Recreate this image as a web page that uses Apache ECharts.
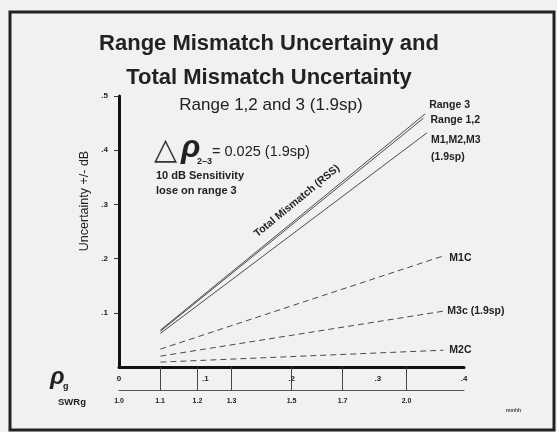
<!DOCTYPE html>
<html>
<head>
<meta charset="utf-8">
<script src="https://cdn.jsdelivr.net/npm/echarts@6/dist/echarts.min.js"></script>
<style>
  html, body { margin: 0; padding: 0; background: #f1f1ef; }
  #chart { width: 557px; height: 432px; }
</style>
</head>
<body>
<div id="chart"></div>
<script>
// reflection coefficient (rho) on x, uncertainty +/- dB on y
var rhoLabels = [0, 0.1, 0.2, 0.3, 0.4];
var swrTicks = [1.1, 1.2, 1.3, 1.5, 1.7, 2.0];
var swrLabels = [1.0, 1.1, 1.2, 1.3, 1.5, 1.7, 2.0];
var yTicks = [0.1, 0.2, 0.3, 0.4, 0.5];

// [rho, dB] start and end of each line
var rangeThree = [[0.048, 0.068], [0.355, 0.467]];
var rangeOneTwo = [[0.048, 0.066], [0.353, 0.459]];
var mAll = [[0.048, 0.062], [0.357, 0.432]];
var m1c = [[0.048, 0.033], [0.376, 0.205]];
var m3c = [[0.048, 0.020], [0.376, 0.103]];
var m2c = [[0.048, 0.009], [0.376, 0.031]];

function rho(s) { return (s - 1) / (s + 1); }

var ink = '#222';
var font = 'Liberation Sans';

function lineSeries(name, data, dashed, label, offset) {
  return {
    name: name,
    type: 'line',
    data: data,
    symbol: 'none',
    silent: true,
    lineStyle: { color: '#4a4a4a', width: 1, type: dashed ? [6, 4] : 'solid' },
    endLabel: {
      show: true,
      formatter: label,
      color: ink,
      fontFamily: font,
      fontWeight: 'bold',
      fontSize: 10.5,
      lineHeight: 17,
      distance: 4,
      offset: offset
    }
  };
}

var chart = echarts.init(document.getElementById('chart'));
chart.setOption({
  animation: false,
  backgroundColor: '#f1f1ef',
  title: [
    {
      text: 'Range Mismatch Uncertainy and\nTotal Mismatch Uncertainty',
      left: 264, top: 22, textAlign: 'center',
      textStyle: { fontFamily: font, fontWeight: 'bold', fontSize: 22, lineHeight: 34, color: ink }
    },
    {
      text: 'Range 1,2 and 3 (1.9sp)',
      left: 266, top: 92, textAlign: 'center',
      textStyle: { fontFamily: font, fontWeight: 'normal', fontSize: 17, color: ink }
    }
  ],
  grid: { left: 119, right: 93, top: 96, bottom: 65, outerBoundsMode: 'none' },
  xAxis: [
    {
      type: 'value', min: 0, max: 0.4, position: 'bottom',
      axisLine: { show: true, onZero: false, lineStyle: { color: '#111', width: 3 } },
      axisTick: {
        show: true, length: 23, customValues: swrTicks.map(rho),
        lineStyle: { color: '#444', width: 1 }
      },
      axisLabel: {
        customValues: rhoLabels, margin: 8,
        fontFamily: font, fontWeight: 'bold', fontSize: 8, color: ink,
        formatter: function (v) { return v === 0 ? '0' : '.' + Math.round(v * 10); }
      },
      splitLine: { show: false }
    },
    {
      type: 'value', min: 0, max: 0.4, position: 'bottom', offset: 23,
      axisLine: { show: true, onZero: false, lineStyle: { color: '#555', width: 1 } },
      axisTick: { show: false },
      axisLabel: {
        customValues: swrLabels.map(rho), margin: 8,
        fontFamily: font, fontWeight: 'bold', fontSize: 7, color: ink,
        formatter: function (v) { return ((1 + v) / (1 - v)).toFixed(1); }
      },
      splitLine: { show: false }
    }
  ],
  yAxis: {
    type: 'value', min: 0, max: 0.5, interval: 0.1,
    axisLine: { show: true, lineStyle: { color: '#111', width: 3 } },
    axisTick: { show: true, length: 5, customValues: yTicks, lineStyle: { color: '#333', width: 1 } },
    axisLabel: {
      customValues: yTicks, margin: 11,
      fontFamily: font, fontWeight: 'bold', fontSize: 8, color: ink,
      formatter: function (v) { return '.' + Math.round(v * 10); }
    },
    splitLine: { show: false }
  },
  series: [
    lineSeries('Range 3', rangeThree, false, 'Range 3', [0, -9]),
    lineSeries('Range 1,2', rangeOneTwo, false, 'Range 1,2', [3, 2]),
    lineSeries('M1,M2,M3', mAll, false, 'M1,M2,M3\n(1.9sp)', [0, 16]),
    lineSeries('M1C', m1c, true, 'M1C', [2, 2]),
    lineSeries('M3c', m3c, true, 'M3c (1.9sp)', [0, 0]),
    lineSeries('M2C', m2c, true, 'M2C', [2, 0])
  ],
  graphic: [
    { type: 'rect', shape: { x: 10, y: 12, width: 544, height: 418 }, style: { fill: 'none', stroke: '#222', lineWidth: 3 } },
    { type: 'text', x: 85, y: 201, rotation: Math.PI / 2, style: { text: 'Uncertainty +/- dB', font: '12.5px "Liberation Sans"', fill: ink, textAlign: 'center', textVerticalAlign: 'middle' } },
    { type: 'text', x: 154, y: 151, style: { text: '\u25B3', font: '30px "DejaVu Sans"', fill: '#333', textVerticalAlign: 'middle' } },
    { type: 'text', x: 181, y: 148, style: { text: '\u03C1', font: 'italic bold 32px "Liberation Sans"', fill: ink, textVerticalAlign: 'middle' } },
    { type: 'text', x: 197, y: 162, style: { text: '2\u20133', font: 'bold 9px "Liberation Sans"', fill: ink, textVerticalAlign: 'middle' } },
    { type: 'text', x: 212, y: 152, style: { text: '= 0.025 (1.9sp)', font: '14.5px "Liberation Sans"', fill: ink, textVerticalAlign: 'middle' } },
    { type: 'text', x: 156, y: 176, style: { text: '10 dB Sensitivity', font: 'bold 11px "Liberation Sans"', fill: ink, textVerticalAlign: 'middle' } },
    { type: 'text', x: 156, y: 191, style: { text: 'lose on range 3', font: 'bold 11px "Liberation Sans"', fill: ink, textVerticalAlign: 'middle' } },
    { type: 'text', x: 297, y: 201, rotation: 0.69, style: { text: 'Total Mismatch (RSS)', font: 'bold 10.5px "Liberation Sans"', fill: ink, textAlign: 'center', textVerticalAlign: 'middle' } },
    { type: 'text', x: 50, y: 377, style: { text: '\u03C1', font: 'italic bold 24px "Liberation Sans"', fill: ink, textVerticalAlign: 'middle' } },
    { type: 'text', x: 63, y: 387, style: { text: 'g', font: 'bold 9px "Liberation Sans"', fill: ink, textVerticalAlign: 'middle' } },
    { type: 'text', x: 58, y: 402, style: { text: 'SWRg', font: 'bold 9.5px "Liberation Sans"', fill: ink, textVerticalAlign: 'middle' } },
    { type: 'text', x: 506, y: 411, style: { text: 'mmhh', font: 'bold 5px "Liberation Sans"', fill: '#444', textVerticalAlign: 'middle' } }
  ]
});
</script>
</body>
</html>
